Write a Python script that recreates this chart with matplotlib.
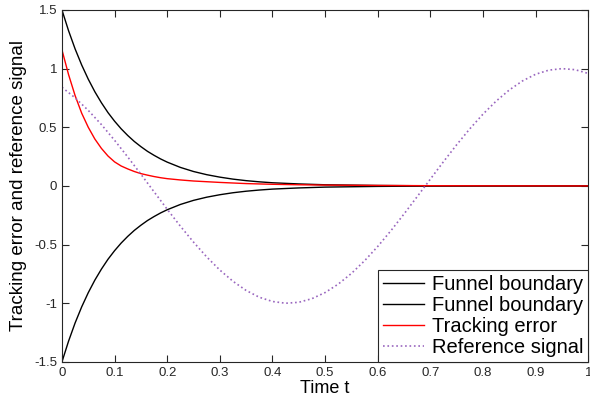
import numpy as np
import matplotlib
matplotlib.use("Agg")
import matplotlib.pyplot as plt

plt.rcParams['font.family'] = ['Liberation Sans', 'DejaVu Sans']

# Time grid of the funnel / error readings
t_fine = [0, 0.0125, 0.025, 0.0375, 0.05, 0.0625, 0.075, 0.0875, 0.1, 0.1125,
          0.125, 0.1375, 0.15, 0.1625, 0.175, 0.1875, 0.2, 0.225, 0.25, 0.275,
          0.3, 0.325, 0.35, 0.375, 0.4, 0.45, 0.5, 0.6, 0.7, 0.8, 0.9, 1.0]

# Upper funnel boundary (lower is the mirror image)
funnel_upper = [1.5, 1.324, 1.168, 1.031, 0.910, 0.803, 0.709, 0.625, 0.552, 0.487,
                0.430, 0.379, 0.335, 0.295, 0.261, 0.230, 0.203, 0.158, 0.123, 0.096,
                0.075, 0.058, 0.045, 0.035, 0.027, 0.017, 0.010, 0.004, 0.001, 0.0005, 0.0002, 0.0]

# Tracking error
err = [1.16, 0.95, 0.77, 0.62, 0.50, 0.40, 0.32, 0.255, 0.205, 0.17,
       0.145, 0.123, 0.105, 0.092, 0.080, 0.070, 0.062, 0.051, 0.042, 0.036,
       0.030, 0.025, 0.020, 0.017, 0.014, 0.010, 0.007, 0.004, 0.002, 0.001, 0.0005, 0.0]

# Reference signal
t_ref = np.arange(0, 1.0001, 0.025)
ref = [0.841, 0.751, 0.644, 0.523, 0.389, 0.247, 0.100, -0.050, -0.199, -0.343,
       -0.479, -0.605, -0.717, -0.813, -0.891, -0.949, -0.985, -1.000, -0.992, -0.961,
       -0.909, -0.837, -0.746, -0.638, -0.516, -0.382, -0.239, -0.091, 0.058, 0.207,
       0.351, 0.487, 0.612, 0.723, 0.818, 0.895, 0.952, 0.987, 1.000, 0.991, 0.959]

fig = plt.figure(figsize=(5.9, 3.99), dpi=100)
ax = fig.add_axes([0.105, 0.093, 0.892, 0.882])

ax.plot(t_fine, funnel_upper, 'k-', lw=1.0, label='Funnel boundary')
ax.plot(t_fine, -np.array(funnel_upper), 'k-', lw=1.0, label='Funnel boundary')
ax.plot(t_fine, err, '-', color='red', lw=1.0, label='Tracking error')
ax.plot(t_ref, ref, ':', color=(0.6, 0.4, 0.75), lw=1.2, label='Reference signal')

ax.set_xlim(0, 1)
ax.set_ylim(-1.5, 1.5)
ax.set_xticks(np.arange(0, 1.01, 0.1))
ax.set_xticklabels(['0', '0.1', '0.2', '0.3', '0.4', '0.5', '0.6', '0.7', '0.8', '0.9', '1'])
ax.set_yticks(np.arange(-1.5, 1.51, 0.5))
ax.set_yticklabels(['-1.5', '-1', '-0.5', '0', '0.5', '1', '1.5'])
ax.tick_params(direction='in', top=True, right=True, length=5, width=0.8,
               labelsize=9.5, colors='#262626', labelcolor='#262626')
for s in ax.spines.values():
    s.set_linewidth(0.8)
    s.set_color('#262626')

ax.set_xlabel('Time t', fontsize=13, labelpad=1)
ax.set_ylabel('Tracking error and reference signal', fontsize=13.5, labelpad=5)

leg = ax.legend(loc='lower right', fontsize=14.5, borderaxespad=0, fancybox=False,
                framealpha=1, edgecolor='#262626', handlelength=2.0,
                handletextpad=0.4, labelspacing=0.1, borderpad=0.25)
leg.get_frame().set_linewidth(0.8)

fig.savefig('out.png', dpi=100)
